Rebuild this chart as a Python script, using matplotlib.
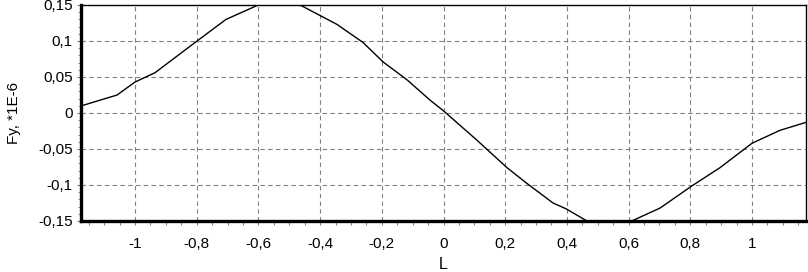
import numpy as np
import matplotlib
matplotlib.use("Agg")
import matplotlib.pyplot as plt
from matplotlib.ticker import MultipleLocator, FuncFormatter

# values
L_VALUES = [-1.175, -1.058, -1.0, -0.935, -0.805, -0.705, -0.595, -0.524,
             -0.465, -0.345, -0.261, -0.196, -0.118, -0.044, 0.0, 0.109,
             0.206, 0.271, 0.355, 0.397, 0.465, 0.605, 0.702, 0.806,
             0.896, 1.0, 1.091, 1.178]
FY_VALUES = [0.0098, 0.025, 0.043, 0.056, 0.098, 0.130, 0.151, 0.152,
             0.150, 0.123, 0.098, 0.071, 0.046, 0.018, 0.003, -0.038,
             -0.076, -0.098, -0.125, -0.133, -0.150, -0.151, -0.132, -0.101,
             -0.076, -0.042, -0.024, -0.0126]

X_LABEL = "L"
Y_LABEL = "Fy, *1E-6"

plt.rcParams['font.family'] = ['Liberation Sans', 'DejaVu Sans']

def comma_fmt(v, pos):
    ''' Tick label with a decimal comma '''
    s = f"{v:.2f}".rstrip('0').rstrip('.')
    if s in ("-0", ""):
        s = "0"
    return s.replace('.', ',')

fig = plt.figure(figsize=(8.08, 2.72), dpi=100)
ax = fig.add_axes([81 / 808, 51 / 272, 725 / 808, 216 / 272])

ax.plot(L_VALUES, FY_VALUES, color="black", linewidth=1.0, zorder=3)

ax.set_xlim(-1.175, 1.175)
ax.set_ylim(-0.15, 0.15)

ax.xaxis.set_major_locator(MultipleLocator(0.2))
ax.xaxis.set_minor_locator(MultipleLocator(0.05))
ax.yaxis.set_major_locator(MultipleLocator(0.05))
ax.yaxis.set_minor_locator(MultipleLocator(0.01))
ax.xaxis.set_major_formatter(FuncFormatter(comma_fmt))
ax.yaxis.set_major_formatter(FuncFormatter(comma_fmt))

ax.grid(True, which="major", color="#808080", linestyle=(0, (4, 3)), linewidth=0.8)
ax.set_axisbelow(True)

ax.tick_params(axis="x", which="major", length=3, width=0.8, color="#808080",
               pad=8.5, labelsize=11)
ax.tick_params(axis="x", which="minor", length=3, width=0.8, color="#808080")
ax.tick_params(axis="y", which="major", length=3, width=0.8, color="#808080",
               pad=3, labelsize=11)
ax.tick_params(axis="y", which="minor", length=2, width=0.6, color="#808080")

for side in ("left", "bottom"):
    ax.spines[side].set_linewidth(2.4)
for side in ("top", "right"):
    ax.spines[side].set_linewidth(1.0)

ax.set_xlabel(X_LABEL, fontsize=11.5, labelpad=4)
ax.set_ylabel(Y_LABEL, fontsize=11, labelpad=12)

fig.savefig("out.png", dpi=100)
